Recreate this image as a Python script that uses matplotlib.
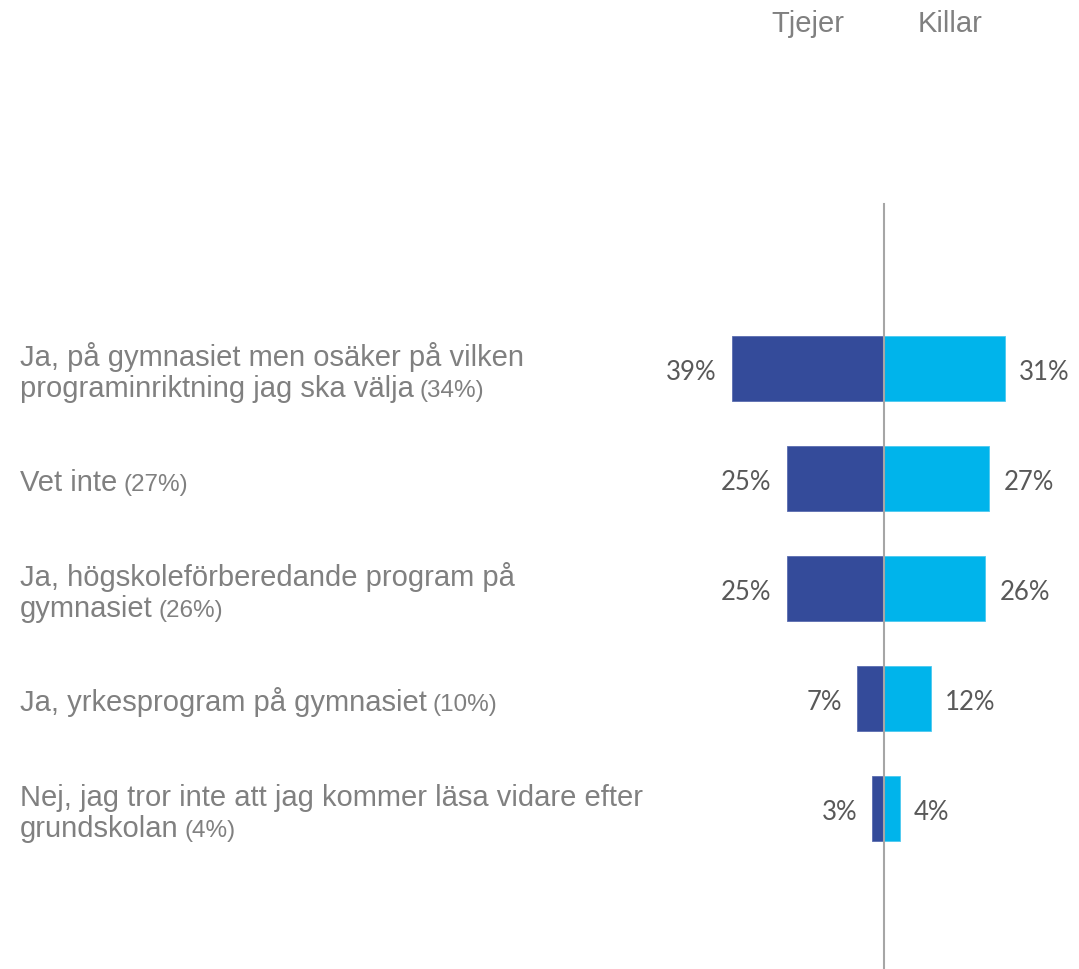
import matplotlib
matplotlib.use("Agg")
import matplotlib.pyplot as plt
import matplotlib.transforms as mtransforms
import numpy as np

# ---- data ----
categories = [
    "Ja, på gymnasiet men osäker på vilken\nprograminriktning jag ska välja",
    "Vet inte",
    "Ja, högskoleförberedande program på\ngymnasiet",
    "Ja, yrkesprogram på gymnasiet",
    "Nej, jag tror inte att jag kommer läsa vidare efter\ngrundskolan",
]
totals = [34, 27, 26, 10, 4]
tjejer = [39, 25, 25, 7, 3]
killar = [31, 27, 26, 12, 4]
series_names = ["Tjejer", "Killar"]

# ---- styling ----
W, H, DPI = 1079, 970, 100
DARK = "#344B9A"
LIGHT = "#00B4EB"
LABEL_GRAY = "#808080"
VALUE_GRAY = "#595959"
LINE_GRAY = "#A6A6A6"
PX = 72.0 / DPI  # points per pixel

fig = plt.figure(figsize=(W / DPI, H / DPI), dpi=DPI)
ax = fig.add_axes([0, 0, 1, 1])
ax.set_axis_off()

px_per_unit = 3.9
x0 = 884
row0 = 369.5
row_step = 110
ax.set_xlim(-x0 / px_per_unit, (W - x0) / px_per_unit)
ax.set_ylim((H - row0) / row_step, -row0 / row_step)

y = np.arange(len(categories))
bh = 65 / 110
ax.barh(y, -np.array(tjejer), height=bh, color=DARK, edgecolor="#5a6db0", linewidth=0.6, zorder=2)
ax.barh(y, np.array(killar), height=bh, color=LIGHT, edgecolor="#4cc9f0", linewidth=0.6, zorder=2)

# center line
ax.axvline(0, ymin=0, ymax=1 - 205 / H, color=LINE_GRAY, lw=1.5, zorder=3)

# value labels
val_font = dict(family=["Lato", "DejaVu Sans"], size=18.5, color=VALUE_GRAY)
for i, (t, k) in enumerate(zip(tjejer, killar)):
    ax.annotate(f"{t}%", xy=(-t, i), xytext=(-15 * PX, -11 * PX), textcoords="offset points",
                ha="right", va="baseline", **val_font)
    ax.annotate(f"{k}%", xy=(k, i), xytext=(14 * PX, -11 * PX), textcoords="offset points",
                ha="left", va="baseline", **val_font)

# headers
hdr_font = dict(family=["Liberation Sans", "DejaVu Sans"], size=21, color=LABEL_GRAY)
top_y = ax.get_ylim()[1]
ax.annotate(series_names[0], xy=(0, top_y), xycoords=("data", "data"), xytext=(-76 * PX, -32 * PX),
            textcoords="offset points", ha="center", va="baseline", **hdr_font)
ax.annotate(series_names[1], xy=(0, top_y), xycoords=("data", "data"), xytext=(66 * PX, -32 * PX),
            textcoords="offset points", ha="center", va="baseline", **hdr_font)

# category labels
cat_font = dict(family=["Liberation Sans", "DejaVu Sans"], size=21, color=LABEL_GRAY)
par_font = dict(family=["Liberation Sans", "DejaVu Sans"], size=17.5, color=LABEL_GRAY)
renderer = fig.canvas.get_renderer()
ident = mtransforms.IdentityTransform()
line_h = 31
left_px = 20
for i, (cat, tot) in enumerate(zip(categories, totals)):
    lines = cat.split("\n")
    n = len(lines)
    cy = ax.transData.transform((0, i))[1]  # display y (origin bottom)
    last = None
    for k, ln in enumerate(lines):
        base = cy - 12 - (k - (n - 1) / 2) * line_h
        last = fig.text(left_px, base, ln, transform=ident, ha="left", va="baseline", **cat_font)
        last_base = base
    ext = last.get_window_extent(renderer=renderer)
    fig.text(ext.x1 + 6, last_base, f"({tot}%)", transform=ident, ha="left", va="baseline", **par_font)

fig.savefig("out.png", dpi=DPI, facecolor="white")
